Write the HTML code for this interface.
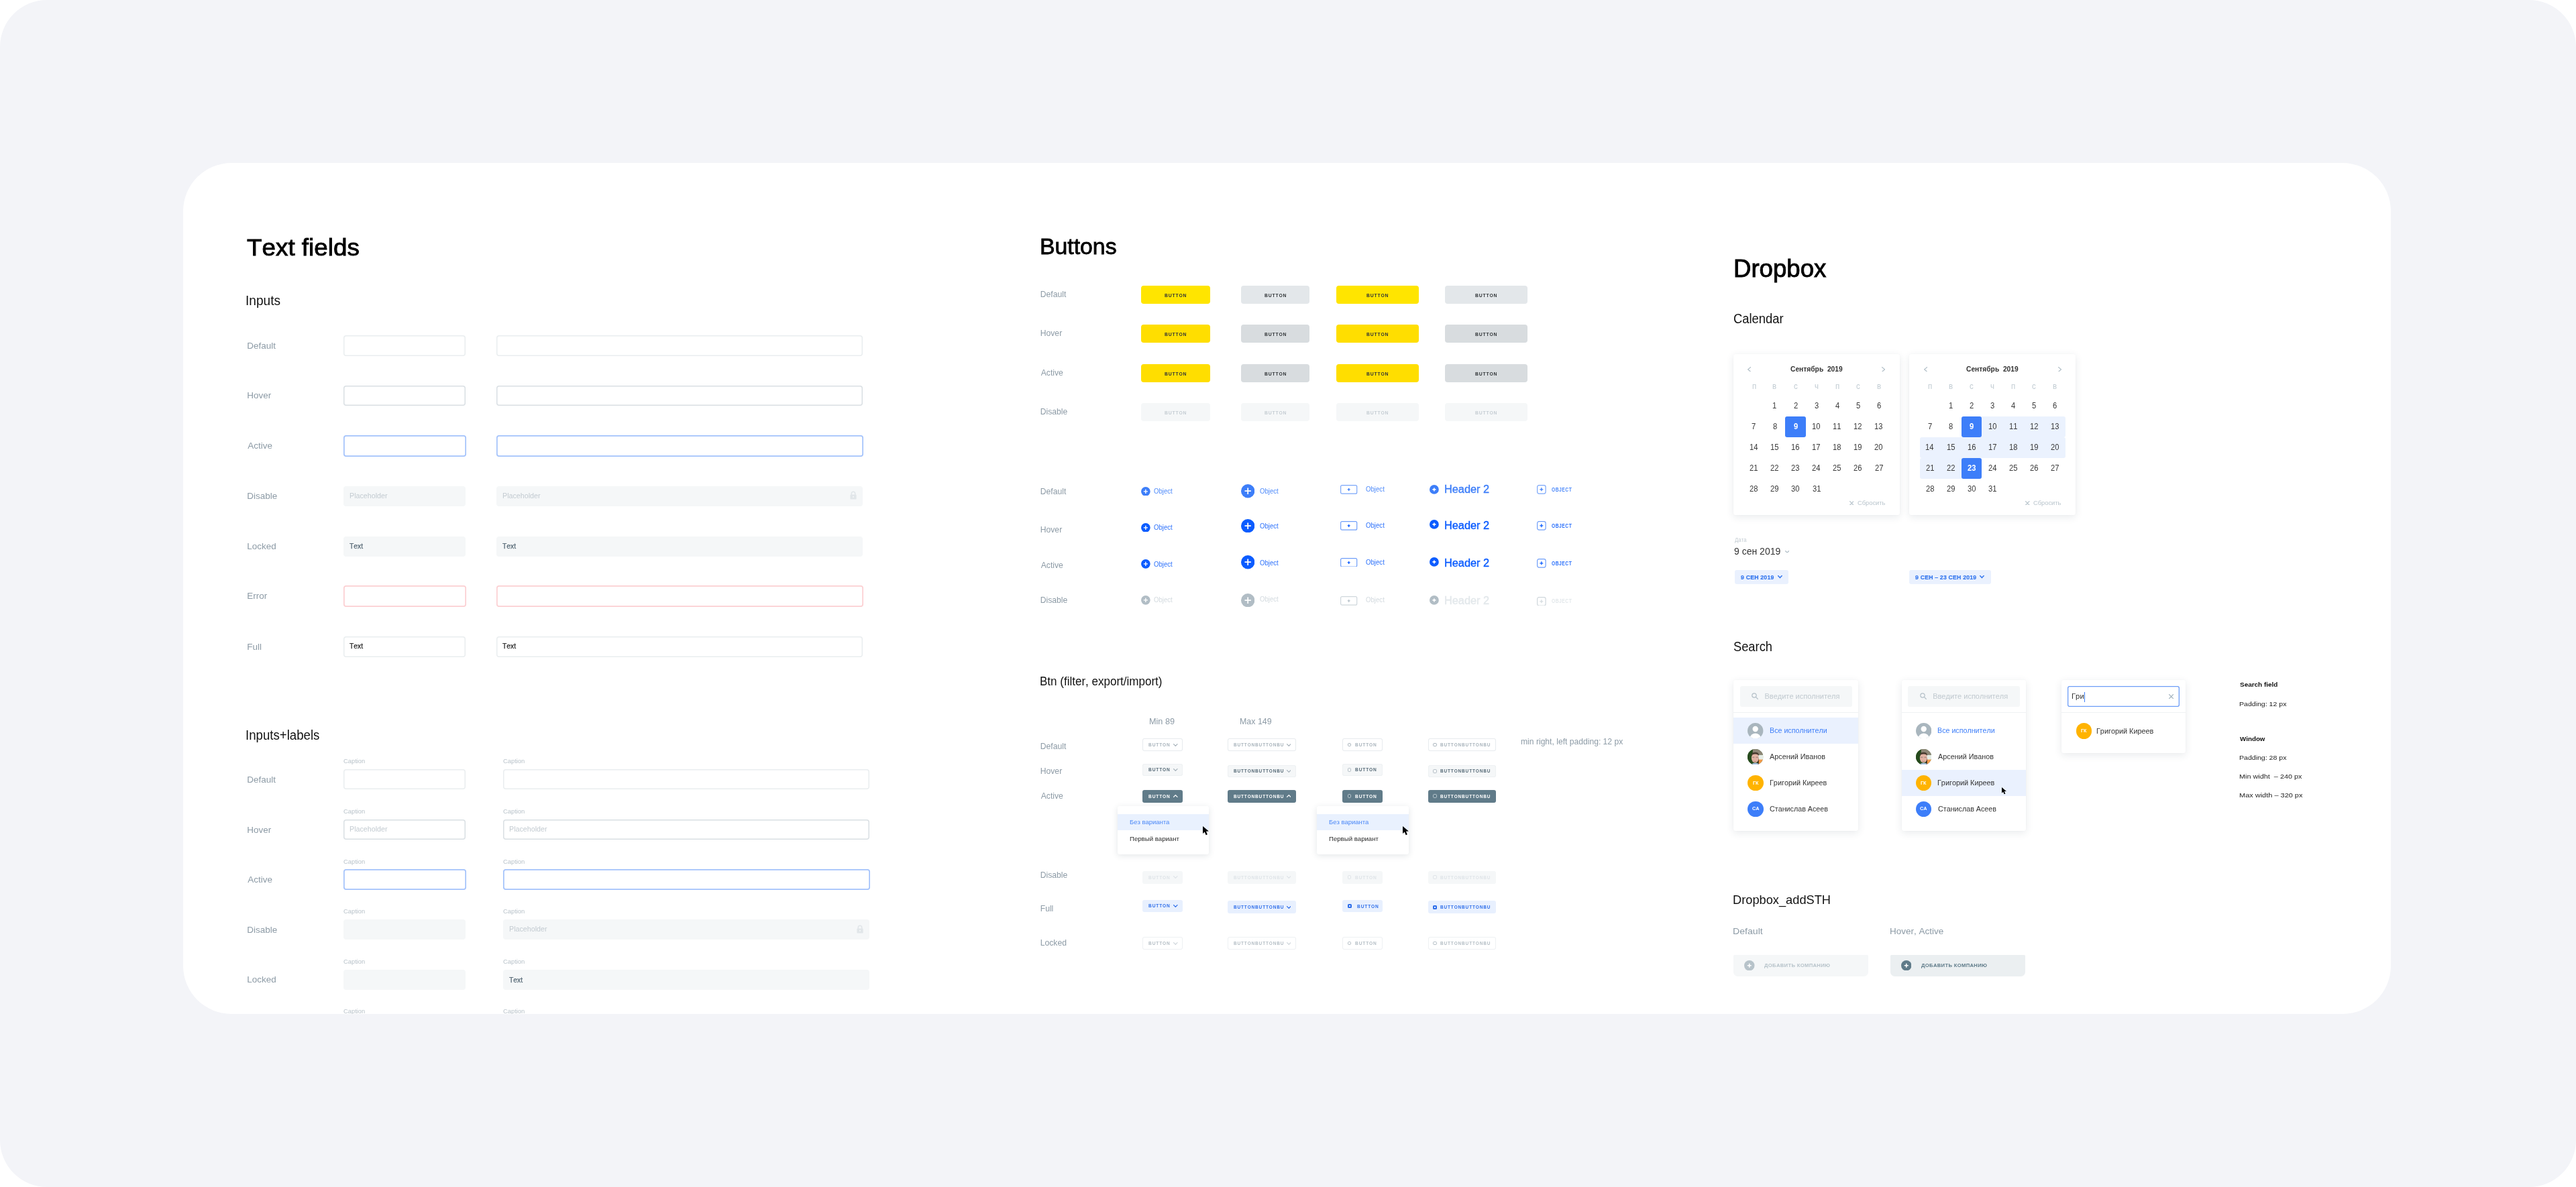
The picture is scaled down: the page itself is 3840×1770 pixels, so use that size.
<!DOCTYPE html>
<html><head><meta charset="utf-8"><title>UI kit</title>
<style>
html,body{margin:0;padding:0;background:#fff;}
body{width:3840px;height:1770px;overflow:hidden;position:relative;font-family:"Liberation Sans", "DejaVu Sans", sans-serif;font-kerning:none;-webkit-font-smoothing:antialiased;}
#bg{position:absolute;left:0;top:0;width:3840px;height:1770px;background:#f3f4f8;border-radius:70px;}
#card{position:absolute;left:273px;top:243px;width:3291px;height:1269px;background:#fff;border-radius:72px;overflow:hidden;}
#in{position:absolute;left:-273px;top:-243px;width:3840px;height:1770px;will-change:transform;filter:blur(0.35px);}
.a{position:absolute;}
.t{position:absolute;white-space:nowrap;transform-origin:0 0;}
</style></head><body>
<div id="bg"></div>
<div id="card"><div id="in">
<div class="t" style="left:368.12px;top:352.36px;font-size:35.71px;line-height:35.71px;color:#000;transform:scaleX(1.0314);-webkit-text-stroke:0.89px #000;">Text fields</div>
<div class="t" style="left:366.43px;top:438.95px;font-size:19.43px;line-height:19.43px;color:#111;transform:scaleX(0.9855);">Inputs</div>
<div class="t" style="left:368.19px;top:508.97px;font-size:13.5px;line-height:13.5px;color:#8d9ba6;">Default</div>
<div class="a" style="left:511.7px;top:500.2px;width:182.6px;height:30.6px;background:#fff;box-shadow:inset 0 0 0 1.5px #e9edef;border-radius:4px;"></div>
<div class="a" style="left:739.7px;top:500.2px;width:546.6px;height:30.6px;background:#fff;box-shadow:inset 0 0 0 1.5px #e9edef;border-radius:4px;"></div>
<div class="t" style="left:368.19px;top:583.47px;font-size:13.5px;line-height:13.5px;color:#8d9ba6;">Hover</div>
<div class="a" style="left:511.7px;top:574.7px;width:182.6px;height:30.6px;background:#fff;box-shadow:inset 0 0 0 1.5px #d9dfe3;border-radius:4px;"></div>
<div class="a" style="left:739.7px;top:574.7px;width:546.6px;height:30.6px;background:#fff;box-shadow:inset 0 0 0 1.5px #d9dfe3;border-radius:4px;"></div>
<div class="t" style="left:369.27px;top:658.47px;font-size:13.5px;line-height:13.5px;color:#8d9ba6;">Active</div>
<div class="a" style="left:511.5px;top:649.4px;width:183px;height:31.2px;background:#fff;box-shadow:inset 0 0 0 1.7px #a3c2fb;border-radius:4px;"></div>
<div class="a" style="left:739.5px;top:649.4px;width:547px;height:31.2px;background:#fff;box-shadow:inset 0 0 0 1.7px #a3c2fb;border-radius:4px;"></div>
<div class="t" style="left:368.19px;top:733.47px;font-size:13.5px;line-height:13.5px;color:#8d9ba6;">Disable</div>
<div class="a" style="left:512px;top:725px;width:182px;height:30px;background:#f5f7f8;border-radius:4px;"></div>
<div class="t" style="left:520.62px;top:734.79px;font-size:10.4px;line-height:10.4px;color:#c3cbd1;transform:scaleX(1.0297);">Placeholder</div>
<div class="a" style="left:740px;top:725px;width:546px;height:30px;background:#f5f7f8;border-radius:4px;"></div>
<div class="t" style="left:748.62px;top:734.79px;font-size:10.4px;line-height:10.4px;color:#c3cbd1;transform:scaleX(1.0297);">Placeholder</div>
<svg class="a" style="left:1267.4px;top:732.4px" width="10" height="13" viewBox="0 0 10 13"><path d="M2.3 6V3.9a2.7 2.7 0 0 1 5.4 0V6" fill="none" stroke="#e1e6e9" stroke-width="1.6"/><rect x="0.4" y="5.4" width="9.2" height="7.2" rx="1.2" fill="#e1e6e9"/><circle cx="5" cy="8.8" r="1.1" fill="#f5f7f8"/></svg>
<div class="t" style="left:368.19px;top:807.97px;font-size:13.5px;line-height:13.5px;color:#8d9ba6;">Locked</div>
<div class="a" style="left:512px;top:799.5px;width:182px;height:30px;background:#f5f7f8;border-radius:4px;"></div>
<div class="t" style="left:521.37px;top:809.46px;font-size:10.8px;line-height:10.8px;color:#526572;transform:scaleX(0.9573);-webkit-text-stroke:0.25px #526572;">Text</div>
<div class="a" style="left:740px;top:799.5px;width:546px;height:30px;background:#f5f7f8;border-radius:4px;"></div>
<div class="t" style="left:749.37px;top:809.46px;font-size:10.8px;line-height:10.8px;color:#526572;transform:scaleX(0.9573);-webkit-text-stroke:0.25px #526572;">Text</div>
<div class="t" style="left:368.19px;top:882.47px;font-size:13.5px;line-height:13.5px;color:#8d9ba6;">Error</div>
<div class="a" style="left:511.5px;top:873.4px;width:183px;height:31.2px;background:#fff;box-shadow:inset 0 0 0 1.7px #fccfd2;border-radius:4px;"></div>
<div class="a" style="left:739.5px;top:873.4px;width:547px;height:31.2px;background:#fff;box-shadow:inset 0 0 0 1.7px #fccfd2;border-radius:4px;"></div>
<div class="t" style="left:368.19px;top:957.97px;font-size:13.5px;line-height:13.5px;color:#8d9ba6;">Full</div>
<div class="a" style="left:511.7px;top:949.2px;width:182.6px;height:30.6px;background:#fff;box-shadow:inset 0 0 0 1.5px #e9edef;border-radius:4px;"></div>
<div class="t" style="left:521.37px;top:957.56px;font-size:10.8px;line-height:10.8px;color:#1d1d1d;transform:scaleX(0.9573);-webkit-text-stroke:0.25px #1d1d1d;">Text</div>
<div class="a" style="left:739.7px;top:949.2px;width:546.6px;height:30.6px;background:#fff;box-shadow:inset 0 0 0 1.5px #e9edef;border-radius:4px;"></div>
<div class="t" style="left:749.37px;top:957.56px;font-size:10.8px;line-height:10.8px;color:#1d1d1d;transform:scaleX(0.9573);-webkit-text-stroke:0.25px #1d1d1d;">Text</div>
<div class="t" style="left:366.48px;top:1085.97px;font-size:20px;line-height:20px;color:#111;transform:scaleX(0.9322);">Inputs+labels</div>
<div class="t" style="left:368.19px;top:1156.07px;font-size:13.5px;line-height:13.5px;color:#8d9ba6;">Default</div>
<div class="t" style="left:511.72px;top:1131.49px;font-size:8.4px;line-height:8.4px;color:#b9c3ca;transform:scaleX(1.1186);">Caption</div>
<div class="t" style="left:749.72px;top:1131.49px;font-size:8.4px;line-height:8.4px;color:#b9c3ca;transform:scaleX(1.1186);">Caption</div>
<div class="a" style="left:511.7px;top:1147.3px;width:182.6px;height:30.2px;background:#fff;box-shadow:inset 0 0 0 1.5px #e9edef;border-radius:4px;"></div>
<div class="a" style="left:749.7px;top:1147.3px;width:546.6px;height:30.2px;background:#fff;box-shadow:inset 0 0 0 1.5px #e9edef;border-radius:4px;"></div>
<div class="t" style="left:368.19px;top:1230.67px;font-size:13.5px;line-height:13.5px;color:#8d9ba6;">Hover</div>
<div class="t" style="left:511.72px;top:1206.09px;font-size:8.4px;line-height:8.4px;color:#b9c3ca;transform:scaleX(1.1186);">Caption</div>
<div class="t" style="left:749.72px;top:1206.09px;font-size:8.4px;line-height:8.4px;color:#b9c3ca;transform:scaleX(1.1186);">Caption</div>
<div class="a" style="left:511.7px;top:1221.9px;width:182.6px;height:30.2px;background:#fff;box-shadow:inset 0 0 0 1.5px #d9dfe3;border-radius:4px;"></div>
<div class="t" style="left:520.62px;top:1231.99px;font-size:10.4px;line-height:10.4px;color:#c3cbd1;transform:scaleX(1.0297);">Placeholder</div>
<div class="a" style="left:749.7px;top:1221.9px;width:546.6px;height:30.2px;background:#fff;box-shadow:inset 0 0 0 1.5px #d9dfe3;border-radius:4px;"></div>
<div class="t" style="left:758.62px;top:1231.99px;font-size:10.4px;line-height:10.4px;color:#c3cbd1;transform:scaleX(1.0297);">Placeholder</div>
<div class="t" style="left:369.27px;top:1305.37px;font-size:13.5px;line-height:13.5px;color:#8d9ba6;">Active</div>
<div class="t" style="left:511.72px;top:1280.79px;font-size:8.4px;line-height:8.4px;color:#b9c3ca;transform:scaleX(1.1186);">Caption</div>
<div class="t" style="left:749.72px;top:1280.79px;font-size:8.4px;line-height:8.4px;color:#b9c3ca;transform:scaleX(1.1186);">Caption</div>
<div class="a" style="left:511.5px;top:1296.3px;width:183px;height:30.8px;background:#fff;box-shadow:inset 0 0 0 1.7px #a3c2fb;border-radius:4px;"></div>
<div class="a" style="left:749.5px;top:1296.3px;width:547px;height:30.8px;background:#fff;box-shadow:inset 0 0 0 1.7px #a3c2fb;border-radius:4px;"></div>
<div class="t" style="left:368.19px;top:1379.87px;font-size:13.5px;line-height:13.5px;color:#8d9ba6;">Disable</div>
<div class="t" style="left:511.72px;top:1355.29px;font-size:8.4px;line-height:8.4px;color:#b9c3ca;transform:scaleX(1.1186);">Caption</div>
<div class="t" style="left:749.72px;top:1355.29px;font-size:8.4px;line-height:8.4px;color:#b9c3ca;transform:scaleX(1.1186);">Caption</div>
<div class="a" style="left:512px;top:1371.4px;width:182px;height:29.6px;background:#f5f7f8;border-radius:4px;"></div>
<div class="a" style="left:750px;top:1371.4px;width:546px;height:29.6px;background:#f5f7f8;border-radius:4px;"></div>
<div class="t" style="left:758.62px;top:1381.19px;font-size:10.4px;line-height:10.4px;color:#c3cbd1;transform:scaleX(1.0297);">Placeholder</div>
<svg class="a" style="left:1277.4px;top:1378.8px" width="10" height="13" viewBox="0 0 10 13"><path d="M2.3 6V3.9a2.7 2.7 0 0 1 5.4 0V6" fill="none" stroke="#e1e6e9" stroke-width="1.6"/><rect x="0.4" y="5.4" width="9.2" height="7.2" rx="1.2" fill="#e1e6e9"/><circle cx="5" cy="8.8" r="1.1" fill="#f5f7f8"/></svg>
<div class="t" style="left:368.19px;top:1454.47px;font-size:13.5px;line-height:13.5px;color:#8d9ba6;">Locked</div>
<div class="t" style="left:511.72px;top:1429.89px;font-size:8.4px;line-height:8.4px;color:#b9c3ca;transform:scaleX(1.1186);">Caption</div>
<div class="t" style="left:749.72px;top:1429.89px;font-size:8.4px;line-height:8.4px;color:#b9c3ca;transform:scaleX(1.1186);">Caption</div>
<div class="a" style="left:512px;top:1446px;width:182px;height:29.6px;background:#f5f7f8;border-radius:4px;"></div>
<div class="a" style="left:750px;top:1446px;width:546px;height:29.6px;background:#f5f7f8;border-radius:4px;"></div>
<div class="t" style="left:759.37px;top:1455.96px;font-size:10.8px;line-height:10.8px;color:#526572;transform:scaleX(0.9573);-webkit-text-stroke:0.25px #526572;">Text</div>
<div class="t" style="left:368.19px;top:1529.07px;font-size:13.5px;line-height:13.5px;color:#8d9ba6;">Error</div>
<div class="t" style="left:511.72px;top:1504.49px;font-size:8.4px;line-height:8.4px;color:#b9c3ca;transform:scaleX(1.1186);">Caption</div>
<div class="t" style="left:749.72px;top:1504.49px;font-size:8.4px;line-height:8.4px;color:#b9c3ca;transform:scaleX(1.1186);">Caption</div>
<div class="a" style="left:511.5px;top:1520px;width:183px;height:30.8px;background:#fff;box-shadow:inset 0 0 0 1.7px #fccfd2;border-radius:4px;"></div>
<div class="a" style="left:749.5px;top:1520px;width:547px;height:30.8px;background:#fff;box-shadow:inset 0 0 0 1.7px #fccfd2;border-radius:4px;"></div>
<div class="t" style="left:1550.04px;top:351.7px;font-size:32.71px;line-height:32.71px;color:#000;transform:scaleX(1.0328);-webkit-text-stroke:0.82px #000;">Buttons</div>
<div class="t" style="left:1550.7px;top:433.27px;font-size:12.2px;line-height:12.2px;color:#8d9ba6;">Default</div>
<div class="a" style="left:1701.2px;top:426.1px;width:102.6px;height:27.4px;background:#ffe500;border-radius:4px;"></div>
<div class="t" style="left:1736.25px;top:437.03px;font-size:8px;line-height:8px;color:#2f3336;font-weight:700;letter-spacing:1px;transform:scaleX(0.8482);">BUTTON</div>
<div class="a" style="left:1850.4px;top:426.1px;width:101.7px;height:27.4px;background:#e3e7ea;border-radius:4px;"></div>
<div class="t" style="left:1885px;top:437.03px;font-size:8px;line-height:8px;color:#2f3336;font-weight:700;letter-spacing:1px;transform:scaleX(0.8482);">BUTTON</div>
<div class="a" style="left:1991.8px;top:426.1px;width:123.2px;height:27.4px;background:#ffe500;border-radius:4px;"></div>
<div class="t" style="left:2037.15px;top:437.03px;font-size:8px;line-height:8px;color:#2f3336;font-weight:700;letter-spacing:1px;transform:scaleX(0.8482);">BUTTON</div>
<div class="a" style="left:2154.3px;top:426.1px;width:122.7px;height:27.4px;background:#e3e7ea;border-radius:4px;"></div>
<div class="t" style="left:2199.4px;top:437.03px;font-size:8px;line-height:8px;color:#2f3336;font-weight:700;letter-spacing:1px;transform:scaleX(0.8482);">BUTTON</div>
<div class="t" style="left:1550.7px;top:490.97px;font-size:12.2px;line-height:12.2px;color:#8d9ba6;">Hover</div>
<div class="a" style="left:1701.2px;top:483.8px;width:102.6px;height:27.4px;background:#ffde00;border-radius:4px;"></div>
<div class="t" style="left:1736.25px;top:494.73px;font-size:8px;line-height:8px;color:#2f3336;font-weight:700;letter-spacing:1px;transform:scaleX(0.8482);">BUTTON</div>
<div class="a" style="left:1850.4px;top:483.8px;width:101.7px;height:27.4px;background:#d8dcdf;border-radius:4px;"></div>
<div class="t" style="left:1885px;top:494.73px;font-size:8px;line-height:8px;color:#2f3336;font-weight:700;letter-spacing:1px;transform:scaleX(0.8482);">BUTTON</div>
<div class="a" style="left:1991.8px;top:483.8px;width:123.2px;height:27.4px;background:#ffde00;border-radius:4px;"></div>
<div class="t" style="left:2037.15px;top:494.73px;font-size:8px;line-height:8px;color:#2f3336;font-weight:700;letter-spacing:1px;transform:scaleX(0.8482);">BUTTON</div>
<div class="a" style="left:2154.3px;top:483.8px;width:122.7px;height:27.4px;background:#d8dcdf;border-radius:4px;"></div>
<div class="t" style="left:2199.4px;top:494.73px;font-size:8px;line-height:8px;color:#2f3336;font-weight:700;letter-spacing:1px;transform:scaleX(0.8482);">BUTTON</div>
<div class="t" style="left:1551.68px;top:550.17px;font-size:12.2px;line-height:12.2px;color:#8d9ba6;">Active</div>
<div class="a" style="left:1701.2px;top:543px;width:102.6px;height:27.4px;background:#ffde00;border-radius:4px;"></div>
<div class="t" style="left:1736.25px;top:553.93px;font-size:8px;line-height:8px;color:#2f3336;font-weight:700;letter-spacing:1px;transform:scaleX(0.8482);">BUTTON</div>
<div class="a" style="left:1850.4px;top:543px;width:101.7px;height:27.4px;background:#d8dcdf;border-radius:4px;"></div>
<div class="t" style="left:1885px;top:553.93px;font-size:8px;line-height:8px;color:#2f3336;font-weight:700;letter-spacing:1px;transform:scaleX(0.8482);">BUTTON</div>
<div class="a" style="left:1991.8px;top:543px;width:123.2px;height:27.4px;background:#ffde00;border-radius:4px;"></div>
<div class="t" style="left:2037.15px;top:553.93px;font-size:8px;line-height:8px;color:#2f3336;font-weight:700;letter-spacing:1px;transform:scaleX(0.8482);">BUTTON</div>
<div class="a" style="left:2154.3px;top:543px;width:122.7px;height:27.4px;background:#d8dcdf;border-radius:4px;"></div>
<div class="t" style="left:2199.4px;top:553.93px;font-size:8px;line-height:8px;color:#2f3336;font-weight:700;letter-spacing:1px;transform:scaleX(0.8482);">BUTTON</div>
<div class="t" style="left:1550.7px;top:607.77px;font-size:12.2px;line-height:12.2px;color:#8d9ba6;">Disable</div>
<div class="a" style="left:1701.2px;top:600.6px;width:102.6px;height:27.4px;background:#f5f7f8;border-radius:4px;"></div>
<div class="t" style="left:1736.25px;top:611.53px;font-size:8px;line-height:8px;color:#c5cdd3;font-weight:700;letter-spacing:1px;transform:scaleX(0.8482);">BUTTON</div>
<div class="a" style="left:1850.4px;top:600.6px;width:101.7px;height:27.4px;background:#f5f7f8;border-radius:4px;"></div>
<div class="t" style="left:1885px;top:611.53px;font-size:8px;line-height:8px;color:#c5cdd3;font-weight:700;letter-spacing:1px;transform:scaleX(0.8482);">BUTTON</div>
<div class="a" style="left:1991.8px;top:600.6px;width:123.2px;height:27.4px;background:#f5f7f8;border-radius:4px;"></div>
<div class="t" style="left:2037.15px;top:611.53px;font-size:8px;line-height:8px;color:#c5cdd3;font-weight:700;letter-spacing:1px;transform:scaleX(0.8482);">BUTTON</div>
<div class="a" style="left:2154.3px;top:600.6px;width:122.7px;height:27.4px;background:#f5f7f8;border-radius:4px;"></div>
<div class="t" style="left:2199.4px;top:611.53px;font-size:8px;line-height:8px;color:#c5cdd3;font-weight:700;letter-spacing:1px;transform:scaleX(0.8482);">BUTTON</div>
<div class="t" style="left:1550.7px;top:726.57px;font-size:12.2px;line-height:12.2px;color:#8d9ba6;">Default</div>
<svg class="a" style="left:1701.15px;top:725.65px" width="13.7" height="13.7" viewBox="0 0 13.7 13.7"><circle cx="6.85" cy="6.85" r="6.85" fill="#3d7ef9"/><path d="M3.75 6.85h6.2M6.85 3.75v6.2" stroke="#fff" stroke-width="1.4"/></svg>
<div class="t" style="left:1719.85px;top:727.34px;font-size:10.7px;line-height:10.7px;color:#4f8bfa;transform:scaleX(0.8965);">Object</div>
<svg class="a" style="left:1849.8px;top:722.2px" width="20.4" height="20.4" viewBox="0 0 20.4 20.4"><circle cx="10.2" cy="10.2" r="10.2" fill="#3d7ef9"/><path d="M5.5 10.2h9.4M10.2 5.5v9.4" stroke="#fff" stroke-width="1.8"/></svg>
<div class="t" style="left:1878.05px;top:727.34px;font-size:10.7px;line-height:10.7px;color:#4f8bfa;transform:scaleX(0.8965);">Object</div>
<svg class="a" style="left:1998.4px;top:723.2px" width="25.3" height="13.8" viewBox="0 0 25.3 13.8"><rect x="0.6" y="0.6" width="24.1" height="12.6" rx="2" fill="none" stroke="#7aa6f9" stroke-width="1.2"/><path d="M10.65 6.9h4M12.65 4.9v4" stroke="#3d7ef9" stroke-width="1.3"/></svg>
<div class="t" style="left:2036.44px;top:725.39px;font-size:10.4px;line-height:10.4px;color:#4f8bfa;transform:scaleX(0.9258);">Object</div>
<svg class="a" style="left:2131.3px;top:722.9px" width="13.8" height="13.8" viewBox="0 0 13.8 13.8"><circle cx="6.9" cy="6.9" r="6.9" fill="#3d7ef9"/><path d="M4.4 6.9h5M6.9 4.4v5" stroke="#fff" stroke-width="1.6"/></svg>
<div class="t" style="left:2153.06px;top:722.05px;font-size:16px;line-height:16px;color:#3d7ef9;transform:scaleX(1.0204);-webkit-text-stroke:0.4px #3d7ef9;">Header 2</div>
<svg class="a" style="left:2291px;top:723.2px" width="13.7" height="13.7" viewBox="0 0 13.7 13.7"><rect x="0.6" y="0.6" width="12.5" height="12.5" rx="2.5" fill="none" stroke="#7aa6f9" stroke-width="1.2"/><path d="M4.35 6.85h5M6.85 4.35v5" stroke="#3d7ef9" stroke-width="1.3"/></svg>
<div class="t" style="left:2312.92px;top:725.79px;font-size:8.4px;line-height:8.4px;color:#4f8bfa;font-weight:700;letter-spacing:0.6px;transform:scaleX(0.8052);">OBJECT</div>
<div class="t" style="left:1550.7px;top:784.27px;font-size:12.2px;line-height:12.2px;color:#8d9ba6;">Hover</div>
<svg class="a" style="left:1701.15px;top:779.75px" width="13.7" height="13.7" viewBox="0 0 13.7 13.7"><circle cx="6.85" cy="6.85" r="6.85" fill="#0b5cff"/><path d="M3.75 6.85h6.2M6.85 3.75v6.2" stroke="#fff" stroke-width="1.4"/></svg>
<div class="t" style="left:1719.85px;top:781.24px;font-size:10.7px;line-height:10.7px;color:#2e72fb;transform:scaleX(0.8965);">Object</div>
<svg class="a" style="left:1849.8px;top:773.5px" width="20.4" height="20.4" viewBox="0 0 20.4 20.4"><circle cx="10.2" cy="10.2" r="10.2" fill="#0b5cff"/><path d="M5.5 10.2h9.4M10.2 5.5v9.4" stroke="#fff" stroke-width="1.8"/></svg>
<div class="t" style="left:1878.05px;top:778.64px;font-size:10.7px;line-height:10.7px;color:#2e72fb;transform:scaleX(0.8965);">Object</div>
<svg class="a" style="left:1998.4px;top:777.2px" width="25.3" height="13.8" viewBox="0 0 25.3 13.8"><rect x="0.6" y="0.6" width="24.1" height="12.6" rx="2" fill="none" stroke="#6f9ef9" stroke-width="1.2"/><path d="M10.65 6.9h4M12.65 4.9v4" stroke="#0b5cff" stroke-width="1.3"/></svg>
<div class="t" style="left:2036.44px;top:778.59px;font-size:10.4px;line-height:10.4px;color:#2e72fb;transform:scaleX(0.9258);">Object</div>
<svg class="a" style="left:2131.3px;top:774.9px" width="13.8" height="13.8" viewBox="0 0 13.8 13.8"><circle cx="6.9" cy="6.9" r="6.9" fill="#0b5cff"/><path d="M4.4 6.9h5M6.9 4.4v5" stroke="#fff" stroke-width="1.6"/></svg>
<div class="t" style="left:2153.06px;top:775.85px;font-size:16px;line-height:16px;color:#0b5cff;transform:scaleX(1.0204);-webkit-text-stroke:0.4px #0b5cff;">Header 2</div>
<svg class="a" style="left:2291px;top:777px" width="13.7" height="13.7" viewBox="0 0 13.7 13.7"><rect x="0.6" y="0.6" width="12.5" height="12.5" rx="2.5" fill="none" stroke="#6f9ef9" stroke-width="1.2"/><path d="M4.35 6.85h5M6.85 4.35v5" stroke="#0b5cff" stroke-width="1.3"/></svg>
<div class="t" style="left:2312.92px;top:779.59px;font-size:8.4px;line-height:8.4px;color:#2e72fb;font-weight:700;letter-spacing:0.6px;transform:scaleX(0.8052);">OBJECT</div>
<div class="t" style="left:1551.68px;top:837.47px;font-size:12.2px;line-height:12.2px;color:#8d9ba6;">Active</div>
<svg class="a" style="left:1701.15px;top:834.35px" width="13.7" height="13.7" viewBox="0 0 13.7 13.7"><circle cx="6.85" cy="6.85" r="6.85" fill="#0b5cff"/><path d="M3.75 6.85h6.2M6.85 3.75v6.2" stroke="#fff" stroke-width="1.4"/></svg>
<div class="t" style="left:1719.85px;top:835.64px;font-size:10.7px;line-height:10.7px;color:#2e72fb;transform:scaleX(0.8965);">Object</div>
<svg class="a" style="left:1849.8px;top:828.3px" width="20.4" height="20.4" viewBox="0 0 20.4 20.4"><circle cx="10.2" cy="10.2" r="10.2" fill="#0b5cff"/><path d="M5.5 10.2h9.4M10.2 5.5v9.4" stroke="#fff" stroke-width="1.8"/></svg>
<div class="t" style="left:1878.05px;top:833.84px;font-size:10.7px;line-height:10.7px;color:#2e72fb;transform:scaleX(0.8965);">Object</div>
<svg class="a" style="left:1998.4px;top:831.6px" width="25.3" height="13.8" viewBox="0 0 25.3 13.8"><rect x="0.6" y="0.6" width="24.1" height="12.6" rx="2" fill="none" stroke="#6f9ef9" stroke-width="1.2"/><path d="M10.65 6.9h4M12.65 4.9v4" stroke="#0b5cff" stroke-width="1.3"/></svg>
<div class="t" style="left:2036.44px;top:833.59px;font-size:10.4px;line-height:10.4px;color:#2e72fb;transform:scaleX(0.9258);">Object</div>
<svg class="a" style="left:2131.3px;top:831px" width="13.8" height="13.8" viewBox="0 0 13.8 13.8"><circle cx="6.9" cy="6.9" r="6.9" fill="#0b5cff"/><path d="M4.4 6.9h5M6.9 4.4v5" stroke="#fff" stroke-width="1.6"/></svg>
<div class="t" style="left:2153.06px;top:832.25px;font-size:16px;line-height:16px;color:#0b5cff;transform:scaleX(1.0204);-webkit-text-stroke:0.4px #0b5cff;">Header 2</div>
<svg class="a" style="left:2291px;top:833px" width="13.7" height="13.7" viewBox="0 0 13.7 13.7"><rect x="0.6" y="0.6" width="12.5" height="12.5" rx="2.5" fill="none" stroke="#6f9ef9" stroke-width="1.2"/><path d="M4.35 6.85h5M6.85 4.35v5" stroke="#0b5cff" stroke-width="1.3"/></svg>
<div class="t" style="left:2312.92px;top:835.99px;font-size:8.4px;line-height:8.4px;color:#2e72fb;font-weight:700;letter-spacing:0.6px;transform:scaleX(0.8052);">OBJECT</div>
<div class="t" style="left:1550.7px;top:888.67px;font-size:12.2px;line-height:12.2px;color:#8d9ba6;">Disable</div>
<svg class="a" style="left:1701.15px;top:887.95px" width="13.7" height="13.7" viewBox="0 0 13.7 13.7"><circle cx="6.85" cy="6.85" r="6.85" fill="#b1bdc5"/><path d="M3.75 6.85h6.2M6.85 3.75v6.2" stroke="#fff" stroke-width="1.4"/></svg>
<div class="t" style="left:1719.85px;top:889.14px;font-size:10.7px;line-height:10.7px;color:#d3dadf;transform:scaleX(0.8965);">Object</div>
<svg class="a" style="left:1849.8px;top:884.6px" width="20.4" height="20.4" viewBox="0 0 20.4 20.4"><circle cx="10.2" cy="10.2" r="10.2" fill="#b1bdc5"/><path d="M5.5 10.2h9.4M10.2 5.5v9.4" stroke="#fff" stroke-width="1.8"/></svg>
<div class="t" style="left:1878.05px;top:887.94px;font-size:10.7px;line-height:10.7px;color:#d3dadf;transform:scaleX(0.8965);">Object</div>
<svg class="a" style="left:1998.4px;top:889.2px" width="25.3" height="13.8" viewBox="0 0 25.3 13.8"><rect x="0.6" y="0.6" width="24.1" height="12.6" rx="2" fill="none" stroke="#cfd7dc" stroke-width="1.2"/><path d="M10.65 6.9h4M12.65 4.9v4" stroke="#b9c4cb" stroke-width="1.3"/></svg>
<div class="t" style="left:2036.44px;top:890.19px;font-size:10.4px;line-height:10.4px;color:#d3dadf;transform:scaleX(0.9258);">Object</div>
<svg class="a" style="left:2131.3px;top:887.9px" width="13.8" height="13.8" viewBox="0 0 13.8 13.8"><circle cx="6.9" cy="6.9" r="6.9" fill="#b1bdc5"/><path d="M4.4 6.9h5M6.9 4.4v5" stroke="#fff" stroke-width="1.6"/></svg>
<div class="t" style="left:2153.06px;top:888.05px;font-size:16px;line-height:16px;color:#e3e8eb;transform:scaleX(1.0204);-webkit-text-stroke:0.4px #e3e8eb;">Header 2</div>
<svg class="a" style="left:2291px;top:889.5px" width="13.7" height="13.7" viewBox="0 0 13.7 13.7"><rect x="0.6" y="0.6" width="12.5" height="12.5" rx="2.5" fill="none" stroke="#cfd7dc" stroke-width="1.2"/><path d="M4.35 6.85h5M6.85 4.35v5" stroke="#d5dce0" stroke-width="1.3"/></svg>
<div class="t" style="left:2312.92px;top:891.89px;font-size:8.4px;line-height:8.4px;color:#e3e8eb;font-weight:700;letter-spacing:0.6px;transform:scaleX(0.8052);">OBJECT</div>
<div class="t" style="left:1550px;top:1006.93px;font-size:18.86px;line-height:18.86px;color:#111;transform:scaleX(0.9021);">Btn (filter, export/import)</div>
<div class="t" style="left:1712.56px;top:1070.33px;font-size:12.6px;line-height:12.6px;color:#8d9ba6;transform:scaleX(1.0059);">Min 89</div>
<div class="t" style="left:1847.58px;top:1070.33px;font-size:12.6px;line-height:12.6px;color:#8d9ba6;transform:scaleX(0.9851);">Max 149</div>
<div class="t" style="left:2267.09px;top:1100.33px;font-size:12.6px;line-height:12.6px;color:#8d9ba6;transform:scaleX(0.9624);">min right, left padding: 12 px</div>
<div class="t" style="left:1550.7px;top:1107.17px;font-size:12.2px;line-height:12.2px;color:#8d9ba6;">Default</div>
<div class="a" style="left:1702.6px;top:1101.3px;width:60.8px;height:18.6px;background:#fff;box-shadow:inset 0 0 0 1px #e7ebee;border-radius:3px;"></div>
<div class="t" style="left:1711.56px;top:1106.93px;font-size:7.4px;line-height:7.4px;color:#a9b4bc;font-weight:700;letter-spacing:1px;transform:scaleX(0.8899);">BUTTON</div>
<svg class="a" style="left:1749.3px;top:1108.6px" width="6.6" height="4" viewBox="0 0 6.6 4"><path d="M0.6 0.6 L3.3 3.4 L6 0.6" fill="none" stroke="#a9b4bc" stroke-width="1.3" stroke-linecap="round" stroke-linejoin="round"/></svg>
<div class="a" style="left:1830.4px;top:1101.3px;width:101.5px;height:18.6px;background:#fff;box-shadow:inset 0 0 0 1px #e7ebee;border-radius:3px;"></div>
<div class="t" style="left:1839.37px;top:1106.93px;font-size:7.4px;line-height:7.4px;color:#a9b4bc;font-weight:700;letter-spacing:1px;transform:scaleX(0.8721);">BUTTONBUTTONBU</div>
<svg class="a" style="left:1917.8px;top:1108.6px" width="6.6" height="4" viewBox="0 0 6.6 4"><path d="M0.6 0.6 L3.3 3.4 L6 0.6" fill="none" stroke="#a9b4bc" stroke-width="1.3" stroke-linecap="round" stroke-linejoin="round"/></svg>
<div class="a" style="left:2001.3px;top:1101.3px;width:60.2px;height:18.6px;background:#fff;box-shadow:inset 0 0 0 1px #e7ebee;border-radius:3px;"></div>
<div class="a" style="left:2008.6px;top:1107.7px;width:5.8px;height:5.8px;box-sizing:border-box;border:1.3px solid #a9b4bc;border-radius:1.6px;"></div>
<div class="t" style="left:2019.96px;top:1106.93px;font-size:7.4px;line-height:7.4px;color:#a9b4bc;font-weight:700;letter-spacing:1px;transform:scaleX(0.8899);">BUTTON</div>
<div class="a" style="left:2128.5px;top:1101.3px;width:101.4px;height:18.6px;background:#fff;box-shadow:inset 0 0 0 1px #e7ebee;border-radius:3px;"></div>
<div class="a" style="left:2135.8px;top:1107.7px;width:5.8px;height:5.8px;box-sizing:border-box;border:1.3px solid #a9b4bc;border-radius:1.6px;"></div>
<div class="t" style="left:2147.17px;top:1106.93px;font-size:7.4px;line-height:7.4px;color:#a9b4bc;font-weight:700;letter-spacing:1px;transform:scaleX(0.8721);">BUTTONBUTTONBU</div>
<div class="t" style="left:1550.7px;top:1143.97px;font-size:12.2px;line-height:12.2px;color:#8d9ba6;">Hover</div>
<div class="a" style="left:1702.6px;top:1138.7px;width:60.8px;height:18.6px;background:#f5f7f8;box-shadow:inset 0 0 0 1px #eef1f3;border-radius:3px;"></div>
<div class="t" style="left:1711.56px;top:1144.33px;font-size:7.4px;line-height:7.4px;color:#566a77;font-weight:700;letter-spacing:1px;transform:scaleX(0.8899);">BUTTON</div>
<svg class="a" style="left:1749.3px;top:1146px" width="6.6" height="4" viewBox="0 0 6.6 4"><path d="M0.6 0.6 L3.3 3.4 L6 0.6" fill="none" stroke="#a9b4bc" stroke-width="1.3" stroke-linecap="round" stroke-linejoin="round"/></svg>
<div class="a" style="left:1830.4px;top:1140.5px;width:101.5px;height:18.6px;background:#f5f7f8;box-shadow:inset 0 0 0 1px #eef1f3;border-radius:3px;"></div>
<div class="t" style="left:1839.37px;top:1146.13px;font-size:7.4px;line-height:7.4px;color:#566a77;font-weight:700;letter-spacing:1px;transform:scaleX(0.8721);">BUTTONBUTTONBU</div>
<svg class="a" style="left:1917.8px;top:1147.8px" width="6.6" height="4" viewBox="0 0 6.6 4"><path d="M0.6 0.6 L3.3 3.4 L6 0.6" fill="none" stroke="#a9b4bc" stroke-width="1.3" stroke-linecap="round" stroke-linejoin="round"/></svg>
<div class="a" style="left:2001.3px;top:1138.7px;width:60.2px;height:18.6px;background:#f5f7f8;box-shadow:inset 0 0 0 1px #eef1f3;border-radius:3px;"></div>
<div class="a" style="left:2008.6px;top:1145.1px;width:5.8px;height:5.8px;box-sizing:border-box;border:1.3px solid #b4bec5;border-radius:1.6px;"></div>
<div class="t" style="left:2019.96px;top:1144.33px;font-size:7.4px;line-height:7.4px;color:#566a77;font-weight:700;letter-spacing:1px;transform:scaleX(0.8899);">BUTTON</div>
<div class="a" style="left:2128.5px;top:1140.5px;width:101.4px;height:18.6px;background:#f5f7f8;box-shadow:inset 0 0 0 1px #eef1f3;border-radius:3px;"></div>
<div class="a" style="left:2135.8px;top:1146.9px;width:5.8px;height:5.8px;box-sizing:border-box;border:1.3px solid #b4bec5;border-radius:1.6px;"></div>
<div class="t" style="left:2147.17px;top:1146.13px;font-size:7.4px;line-height:7.4px;color:#566a77;font-weight:700;letter-spacing:1px;transform:scaleX(0.8721);">BUTTONBUTTONBU</div>
<div class="t" style="left:1551.68px;top:1181.07px;font-size:12.2px;line-height:12.2px;color:#8d9ba6;">Active</div>
<div class="a" style="left:1702.6px;top:1178px;width:60.8px;height:18.6px;background:#607b89;border-radius:3px;"></div>
<div class="t" style="left:1711.56px;top:1183.63px;font-size:7.4px;line-height:7.4px;color:#ffffff;font-weight:700;letter-spacing:1px;transform:scaleX(0.8899);">BUTTON</div>
<svg class="a" style="left:1749.3px;top:1185.3px" width="6.6" height="4" viewBox="0 0 6.6 4"><path d="M0.6 3.4 L3.3 0.6 L6 3.4" fill="none" stroke="#ffffff" stroke-width="1.3" stroke-linecap="round" stroke-linejoin="round"/></svg>
<div class="a" style="left:1830.4px;top:1178px;width:101.5px;height:18.6px;background:#607b89;border-radius:3px;"></div>
<div class="t" style="left:1839.37px;top:1183.63px;font-size:7.4px;line-height:7.4px;color:#ffffff;font-weight:700;letter-spacing:1px;transform:scaleX(0.8721);">BUTTONBUTTONBU</div>
<svg class="a" style="left:1917.8px;top:1185.3px" width="6.6" height="4" viewBox="0 0 6.6 4"><path d="M0.6 3.4 L3.3 0.6 L6 3.4" fill="none" stroke="#ffffff" stroke-width="1.3" stroke-linecap="round" stroke-linejoin="round"/></svg>
<div class="a" style="left:2001.3px;top:1178px;width:60.2px;height:18.6px;background:#607b89;border-radius:3px;"></div>
<div class="a" style="left:2008.6px;top:1184.4px;width:5.8px;height:5.8px;box-sizing:border-box;border:1.3px solid #b8c6cd;border-radius:1.6px;"></div>
<div class="t" style="left:2019.96px;top:1183.63px;font-size:7.4px;line-height:7.4px;color:#ffffff;font-weight:700;letter-spacing:1px;transform:scaleX(0.8899);">BUTTON</div>
<div class="a" style="left:2128.5px;top:1178px;width:101.4px;height:18.6px;background:#607b89;border-radius:3px;"></div>
<div class="a" style="left:2135.8px;top:1184.4px;width:5.8px;height:5.8px;box-sizing:border-box;border:1.3px solid #b8c6cd;border-radius:1.6px;"></div>
<div class="t" style="left:2147.17px;top:1183.63px;font-size:7.4px;line-height:7.4px;color:#ffffff;font-weight:700;letter-spacing:1px;transform:scaleX(0.8721);">BUTTONBUTTONBU</div>
<div class="t" style="left:1550.7px;top:1299.17px;font-size:12.2px;line-height:12.2px;color:#8d9ba6;">Disable</div>
<div class="a" style="left:1702.6px;top:1299px;width:60.8px;height:18.6px;background:#f5f7f8;border-radius:3px;"></div>
<div class="t" style="left:1711.56px;top:1304.63px;font-size:7.4px;line-height:7.4px;color:#dfe4e8;font-weight:700;letter-spacing:1px;transform:scaleX(0.8899);">BUTTON</div>
<svg class="a" style="left:1749.3px;top:1306.3px" width="6.6" height="4" viewBox="0 0 6.6 4"><path d="M0.6 0.6 L3.3 3.4 L6 0.6" fill="none" stroke="#dfe4e8" stroke-width="1.3" stroke-linecap="round" stroke-linejoin="round"/></svg>
<div class="a" style="left:1830.4px;top:1299px;width:101.5px;height:18.6px;background:#f5f7f8;border-radius:3px;"></div>
<div class="t" style="left:1839.37px;top:1304.63px;font-size:7.4px;line-height:7.4px;color:#dfe4e8;font-weight:700;letter-spacing:1px;transform:scaleX(0.8721);">BUTTONBUTTONBU</div>
<svg class="a" style="left:1917.8px;top:1306.3px" width="6.6" height="4" viewBox="0 0 6.6 4"><path d="M0.6 0.6 L3.3 3.4 L6 0.6" fill="none" stroke="#dfe4e8" stroke-width="1.3" stroke-linecap="round" stroke-linejoin="round"/></svg>
<div class="a" style="left:2001.3px;top:1299px;width:60.2px;height:18.6px;background:#f5f7f8;border-radius:3px;"></div>
<div class="a" style="left:2008.6px;top:1305.4px;width:5.8px;height:5.8px;box-sizing:border-box;border:1.3px solid #dfe4e8;border-radius:1.6px;"></div>
<div class="t" style="left:2019.96px;top:1304.63px;font-size:7.4px;line-height:7.4px;color:#dfe4e8;font-weight:700;letter-spacing:1px;transform:scaleX(0.8899);">BUTTON</div>
<div class="a" style="left:2128.5px;top:1299px;width:101.4px;height:18.6px;background:#f5f7f8;border-radius:3px;"></div>
<div class="a" style="left:2135.8px;top:1305.4px;width:5.8px;height:5.8px;box-sizing:border-box;border:1.3px solid #dfe4e8;border-radius:1.6px;"></div>
<div class="t" style="left:2147.17px;top:1304.63px;font-size:7.4px;line-height:7.4px;color:#dfe4e8;font-weight:700;letter-spacing:1px;transform:scaleX(0.8721);">BUTTONBUTTONBU</div>
<div class="t" style="left:1550.7px;top:1349.17px;font-size:12.2px;line-height:12.2px;color:#8d9ba6;">Full</div>
<div class="a" style="left:1702.6px;top:1341.8px;width:60.8px;height:18.6px;background:#e8f0fe;border-radius:3px;"></div>
<div class="t" style="left:1711.56px;top:1347.43px;font-size:7.4px;line-height:7.4px;color:#2f6fea;font-weight:700;letter-spacing:1px;transform:scaleX(0.8899);">BUTTON</div>
<svg class="a" style="left:1749.3px;top:1349.1px" width="6.6" height="4" viewBox="0 0 6.6 4"><path d="M0.6 0.6 L3.3 3.4 L6 0.6" fill="none" stroke="#2f6fea" stroke-width="1.3" stroke-linecap="round" stroke-linejoin="round"/></svg>
<div class="a" style="left:1830.4px;top:1343.2px;width:101.5px;height:18.6px;background:#e8f0fe;border-radius:3px;"></div>
<div class="t" style="left:1839.37px;top:1348.83px;font-size:7.4px;line-height:7.4px;color:#2f6fea;font-weight:700;letter-spacing:1px;transform:scaleX(0.8721);">BUTTONBUTTONBU</div>
<svg class="a" style="left:1917.8px;top:1350.5px" width="6.6" height="4" viewBox="0 0 6.6 4"><path d="M0.6 0.6 L3.3 3.4 L6 0.6" fill="none" stroke="#2f6fea" stroke-width="1.3" stroke-linecap="round" stroke-linejoin="round"/></svg>
<div class="a" style="left:2001.3px;top:1341.8px;width:60.2px;height:18.6px;background:#e8f0fe;border-radius:3px;"></div>
<div class="a" style="left:2008.9px;top:1348.1px;width:6px;height:6px;box-sizing:border-box;border:2px solid #2f6fea;border-radius:1.6px;"></div>
<div class="t" style="left:2023.26px;top:1348.03px;font-size:7.4px;line-height:7.4px;color:#2f6fea;font-weight:700;letter-spacing:1px;transform:scaleX(0.8899);">BUTTON</div>
<div class="a" style="left:2128.5px;top:1343.2px;width:101.4px;height:18.6px;background:#e8f0fe;border-radius:3px;"></div>
<div class="a" style="left:2136.1px;top:1349.5px;width:6px;height:6px;box-sizing:border-box;border:2px solid #2f6fea;border-radius:1.6px;"></div>
<div class="t" style="left:2147.17px;top:1349.43px;font-size:7.4px;line-height:7.4px;color:#2f6fea;font-weight:700;letter-spacing:1px;transform:scaleX(0.8721);">BUTTONBUTTONBU</div>
<div class="t" style="left:1550.7px;top:1400.37px;font-size:12.2px;line-height:12.2px;color:#8d9ba6;">Locked</div>
<div class="a" style="left:1702.6px;top:1397.2px;width:60.8px;height:18.6px;background:#fff;box-shadow:inset 0 0 0 1px #eef1f3;border-radius:3px;"></div>
<div class="t" style="left:1711.56px;top:1402.83px;font-size:7.4px;line-height:7.4px;color:#b4bec5;font-weight:700;letter-spacing:1px;transform:scaleX(0.8899);">BUTTON</div>
<svg class="a" style="left:1749.3px;top:1404.5px" width="6.6" height="4" viewBox="0 0 6.6 4"><path d="M0.6 0.6 L3.3 3.4 L6 0.6" fill="none" stroke="#d0d7dc" stroke-width="1.3" stroke-linecap="round" stroke-linejoin="round"/></svg>
<div class="a" style="left:1830.4px;top:1397.2px;width:101.5px;height:18.6px;background:#fff;box-shadow:inset 0 0 0 1px #eef1f3;border-radius:3px;"></div>
<div class="t" style="left:1839.37px;top:1402.83px;font-size:7.4px;line-height:7.4px;color:#b4bec5;font-weight:700;letter-spacing:1px;transform:scaleX(0.8721);">BUTTONBUTTONBU</div>
<svg class="a" style="left:1917.8px;top:1404.5px" width="6.6" height="4" viewBox="0 0 6.6 4"><path d="M0.6 0.6 L3.3 3.4 L6 0.6" fill="none" stroke="#d0d7dc" stroke-width="1.3" stroke-linecap="round" stroke-linejoin="round"/></svg>
<div class="a" style="left:2001.3px;top:1397.2px;width:60.2px;height:18.6px;background:#fff;box-shadow:inset 0 0 0 1px #eef1f3;border-radius:3px;"></div>
<div class="a" style="left:2008.6px;top:1403.6px;width:5.8px;height:5.8px;box-sizing:border-box;border:1.3px solid #b4bec5;border-radius:1.6px;"></div>
<div class="t" style="left:2019.96px;top:1402.83px;font-size:7.4px;line-height:7.4px;color:#b4bec5;font-weight:700;letter-spacing:1px;transform:scaleX(0.8899);">BUTTON</div>
<div class="a" style="left:2128.5px;top:1397.2px;width:101.4px;height:18.6px;background:#fff;box-shadow:inset 0 0 0 1px #eef1f3;border-radius:3px;"></div>
<div class="a" style="left:2135.8px;top:1403.6px;width:5.8px;height:5.8px;box-sizing:border-box;border:1.3px solid #b4bec5;border-radius:1.6px;"></div>
<div class="t" style="left:2147.17px;top:1402.83px;font-size:7.4px;line-height:7.4px;color:#b4bec5;font-weight:700;letter-spacing:1px;transform:scaleX(0.8721);">BUTTONBUTTONBU</div>
<div class="a" style="left:1665.7px;top:1201.8px;width:136.8px;height:72.2px;background:#fff;border-radius:3px;box-shadow:0 2px 10px rgba(40,60,80,0.13);"></div>
<div class="a" style="left:1665.7px;top:1214.3px;width:136.8px;height:23.9px;background:#e9f1fe;"></div>
<div class="t" style="left:1683.82px;top:1221.2px;font-size:9.8px;line-height:9.8px;color:#4a87f7;transform:scaleX(0.9658);">Без варианта</div>
<div class="t" style="left:1683.82px;top:1245.5px;font-size:9.8px;line-height:9.8px;color:#2a2a2a;transform:scaleX(0.9817);">Первый вариант</div>
<svg class="a" style="left:1793.2px;top:1232px;overflow:visible" width="10" height="14" viewBox="0 0 10 14"><path d="M0 0 L0 11 L2.7 8.6 L4.7 13.3 L6.9 12.3 L4.9 7.8 L8.9 7.6 Z" fill="#000"/></svg>
<div class="a" style="left:1962.8px;top:1201.8px;width:137.4px;height:72.2px;background:#fff;border-radius:3px;box-shadow:0 2px 10px rgba(40,60,80,0.13);"></div>
<div class="a" style="left:1962.8px;top:1214.3px;width:137.4px;height:23.9px;background:#e9f1fe;"></div>
<div class="t" style="left:1980.92px;top:1221.2px;font-size:9.8px;line-height:9.8px;color:#4a87f7;transform:scaleX(0.9658);">Без варианта</div>
<div class="t" style="left:1980.92px;top:1245.5px;font-size:9.8px;line-height:9.8px;color:#2a2a2a;transform:scaleX(0.9817);">Первый вариант</div>
<svg class="a" style="left:2090.8px;top:1232px;overflow:visible" width="10" height="14" viewBox="0 0 10 14"><path d="M0 0 L0 11 L2.7 8.6 L4.7 13.3 L6.9 12.3 L4.9 7.8 L8.9 7.6 Z" fill="#000"/></svg>
<div class="t" style="left:2583.75px;top:382.88px;font-size:36.29px;line-height:36.29px;color:#000;transform:scaleX(1.0083);-webkit-text-stroke:0.91px #000;">Dropbox</div>
<div class="t" style="left:2584.07px;top:466.23px;font-size:19.57px;line-height:19.57px;color:#111;transform:scaleX(0.9400);">Calendar</div>
<div class="a" style="left:2584px;top:528.3px;width:247.5px;height:239.9px;background:#fff;border-radius:3px;box-shadow:0 3px 12px rgba(40,60,80,0.10), 0 0 2px rgba(40,60,80,0.05);"></div>
<div class="t" style="left:2668.93px;top:544.93px;font-size:11.3px;line-height:11.3px;color:#333;font-weight:700;transform:scaleX(0.9073);">Сентябрь&nbsp; 2019</div>
<svg class="a" style="left:2605.3px;top:546.6px" width="5.2" height="7.8" viewBox="0 0 5.2 7.8"><path d="M4.6 0.6 L0.6 3.9 L4.6 7.2" fill="none" stroke="#a9b8c2" stroke-width="1.2" stroke-linecap="round" stroke-linejoin="round"/></svg>
<svg class="a" style="left:2805.3px;top:546.6px" width="5.2" height="7.8" viewBox="0 0 5.2 7.8"><path d="M0.6 0.6 L4.6 3.9 L0.6 7.2" fill="none" stroke="#a9b8c2" stroke-width="1.2" stroke-linecap="round" stroke-linejoin="round"/></svg>
<div class="t" style="left:2611.5px;top:569.87px;font-size:12.2px;line-height:12.2px;color:#c2ccd3;transform:scaleX(0.9400);">п</div>
<div class="t" style="left:2642.44px;top:569.87px;font-size:12.2px;line-height:12.2px;color:#c2ccd3;transform:scaleX(0.9400);">в</div>
<div class="t" style="left:2673.7px;top:569.87px;font-size:12.2px;line-height:12.2px;color:#c2ccd3;transform:scaleX(0.9400);">с</div>
<div class="t" style="left:2704.76px;top:569.87px;font-size:12.2px;line-height:12.2px;color:#c2ccd3;transform:scaleX(0.9400);">ч</div>
<div class="t" style="left:2735.62px;top:569.87px;font-size:12.2px;line-height:12.2px;color:#c2ccd3;transform:scaleX(0.9400);">п</div>
<div class="t" style="left:2766.79px;top:569.87px;font-size:12.2px;line-height:12.2px;color:#c2ccd3;transform:scaleX(0.9400);">с</div>
<div class="t" style="left:2797.59px;top:569.87px;font-size:12.2px;line-height:12.2px;color:#c2ccd3;transform:scaleX(0.9400);">в</div>
<div class="a" style="left:2661.31px;top:620.8px;width:30.7px;height:30.9px;background:#3d7ef9;border-radius:3px;"></div>
<div class="t" style="left:2642.36px;top:599.17px;font-size:12.2px;line-height:12.2px;color:#3a3a3a;transform:scaleX(0.9200);">1</div>
<div class="t" style="left:2673.54px;top:599.17px;font-size:12.2px;line-height:12.2px;color:#3a3a3a;transform:scaleX(0.9200);">2</div>
<div class="t" style="left:2704.6px;top:599.17px;font-size:12.2px;line-height:12.2px;color:#3a3a3a;transform:scaleX(0.9200);">3</div>
<div class="t" style="left:2735.63px;top:599.17px;font-size:12.2px;line-height:12.2px;color:#3a3a3a;transform:scaleX(0.9200);">4</div>
<div class="t" style="left:2766.64px;top:599.17px;font-size:12.2px;line-height:12.2px;color:#3a3a3a;transform:scaleX(0.9200);">5</div>
<div class="t" style="left:2797.62px;top:599.17px;font-size:12.2px;line-height:12.2px;color:#3a3a3a;transform:scaleX(0.9200);">6</div>
<div class="t" style="left:2611.47px;top:630.12px;font-size:12.2px;line-height:12.2px;color:#3a3a3a;transform:scaleX(0.9200);">7</div>
<div class="t" style="left:2642.51px;top:630.12px;font-size:12.2px;line-height:12.2px;color:#3a3a3a;transform:scaleX(0.9200);">8</div>
<div class="t" style="left:2673.55px;top:630.12px;font-size:12.2px;line-height:12.2px;color:#fff;font-weight:700;transform:scaleX(0.9200);">9</div>
<div class="t" style="left:2701.24px;top:630.12px;font-size:12.2px;line-height:12.2px;color:#3a3a3a;transform:scaleX(0.9200);">10</div>
<div class="t" style="left:2732.32px;top:630.12px;font-size:12.2px;line-height:12.2px;color:#3a3a3a;transform:scaleX(0.9200);">11</div>
<div class="t" style="left:2763.36px;top:630.12px;font-size:12.2px;line-height:12.2px;color:#3a3a3a;transform:scaleX(0.9200);">12</div>
<div class="t" style="left:2794.36px;top:630.12px;font-size:12.2px;line-height:12.2px;color:#3a3a3a;transform:scaleX(0.9200);">13</div>
<div class="t" style="left:2608.09px;top:661.07px;font-size:12.2px;line-height:12.2px;color:#3a3a3a;transform:scaleX(0.9200);">14</div>
<div class="t" style="left:2639.2px;top:661.07px;font-size:12.2px;line-height:12.2px;color:#3a3a3a;transform:scaleX(0.9200);">15</div>
<div class="t" style="left:2670.24px;top:661.07px;font-size:12.2px;line-height:12.2px;color:#3a3a3a;transform:scaleX(0.9200);">16</div>
<div class="t" style="left:2701.3px;top:661.07px;font-size:12.2px;line-height:12.2px;color:#3a3a3a;transform:scaleX(0.9200);">17</div>
<div class="t" style="left:2732.29px;top:661.07px;font-size:12.2px;line-height:12.2px;color:#3a3a3a;transform:scaleX(0.9200);">18</div>
<div class="t" style="left:2763.35px;top:661.07px;font-size:12.2px;line-height:12.2px;color:#3a3a3a;transform:scaleX(0.9200);">19</div>
<div class="t" style="left:2794.47px;top:661.07px;font-size:12.2px;line-height:12.2px;color:#3a3a3a;transform:scaleX(0.9200);">20</div>
<div class="t" style="left:2608.35px;top:692.02px;font-size:12.2px;line-height:12.2px;color:#3a3a3a;transform:scaleX(0.9200);">21</div>
<div class="t" style="left:2639.39px;top:692.02px;font-size:12.2px;line-height:12.2px;color:#3a3a3a;transform:scaleX(0.9200);">22</div>
<div class="t" style="left:2670.38px;top:692.02px;font-size:12.2px;line-height:12.2px;color:#3a3a3a;transform:scaleX(0.9200);">23</div>
<div class="t" style="left:2701.33px;top:692.02px;font-size:12.2px;line-height:12.2px;color:#3a3a3a;transform:scaleX(0.9200);">24</div>
<div class="t" style="left:2732.43px;top:692.02px;font-size:12.2px;line-height:12.2px;color:#3a3a3a;transform:scaleX(0.9200);">25</div>
<div class="t" style="left:2763.47px;top:692.02px;font-size:12.2px;line-height:12.2px;color:#3a3a3a;transform:scaleX(0.9200);">26</div>
<div class="t" style="left:2794.54px;top:692.02px;font-size:12.2px;line-height:12.2px;color:#3a3a3a;transform:scaleX(0.9200);">27</div>
<div class="t" style="left:2608.32px;top:722.97px;font-size:12.2px;line-height:12.2px;color:#3a3a3a;transform:scaleX(0.9200);">28</div>
<div class="t" style="left:2639.37px;top:722.97px;font-size:12.2px;line-height:12.2px;color:#3a3a3a;transform:scaleX(0.9200);">29</div>
<div class="t" style="left:2670.42px;top:722.97px;font-size:12.2px;line-height:12.2px;color:#3a3a3a;transform:scaleX(0.9200);">30</div>
<div class="t" style="left:2701.51px;top:722.97px;font-size:12.2px;line-height:12.2px;color:#3a3a3a;transform:scaleX(0.9200);">31</div>
<svg class="a" style="left:2756.7px;top:746.5px" width="6.6" height="6.6" viewBox="0 0 6.6 6.6"><path d="M0.6 0.6L6 6M6 0.6L0.6 6" stroke="#b9c5cd" stroke-width="1.3" stroke-linecap="round"/></svg>
<div class="t" style="left:2769.03px;top:744.9px;font-size:9.8px;line-height:9.8px;color:#b9c5cd;transform:scaleX(0.9494);">Сбросить</div>
<div class="a" style="left:2846.4px;top:528.3px;width:247.5px;height:239.9px;background:#fff;border-radius:3px;box-shadow:0 3px 12px rgba(40,60,80,0.10), 0 0 2px rgba(40,60,80,0.05);"></div>
<div class="t" style="left:2931.33px;top:544.93px;font-size:11.3px;line-height:11.3px;color:#333;font-weight:700;transform:scaleX(0.9073);">Сентябрь&nbsp; 2019</div>
<svg class="a" style="left:2867.7px;top:546.6px" width="5.2" height="7.8" viewBox="0 0 5.2 7.8"><path d="M4.6 0.6 L0.6 3.9 L4.6 7.2" fill="none" stroke="#a9b8c2" stroke-width="1.2" stroke-linecap="round" stroke-linejoin="round"/></svg>
<svg class="a" style="left:3067.7px;top:546.6px" width="5.2" height="7.8" viewBox="0 0 5.2 7.8"><path d="M0.6 0.6 L4.6 3.9 L0.6 7.2" fill="none" stroke="#a9b8c2" stroke-width="1.2" stroke-linecap="round" stroke-linejoin="round"/></svg>
<div class="t" style="left:2873.9px;top:569.87px;font-size:12.2px;line-height:12.2px;color:#c2ccd3;transform:scaleX(0.9400);">п</div>
<div class="t" style="left:2904.84px;top:569.87px;font-size:12.2px;line-height:12.2px;color:#c2ccd3;transform:scaleX(0.9400);">в</div>
<div class="t" style="left:2936.1px;top:569.87px;font-size:12.2px;line-height:12.2px;color:#c2ccd3;transform:scaleX(0.9400);">с</div>
<div class="t" style="left:2967.16px;top:569.87px;font-size:12.2px;line-height:12.2px;color:#c2ccd3;transform:scaleX(0.9400);">ч</div>
<div class="t" style="left:2998.02px;top:569.87px;font-size:12.2px;line-height:12.2px;color:#c2ccd3;transform:scaleX(0.9400);">п</div>
<div class="t" style="left:3029.19px;top:569.87px;font-size:12.2px;line-height:12.2px;color:#c2ccd3;transform:scaleX(0.9400);">с</div>
<div class="t" style="left:3059.99px;top:569.87px;font-size:12.2px;line-height:12.2px;color:#c2ccd3;transform:scaleX(0.9400);">в</div>
<div class="a" style="left:2939.06px;top:620.75px;width:139.62px;height:31px;background:#ebf2fe;border-radius:3px;"></div>
<div class="a" style="left:2861.8px;top:651.7px;width:216.88px;height:31px;background:#ebf2fe;border-radius:3px;"></div>
<div class="a" style="left:2861.8px;top:682.65px;width:77.26px;height:31px;background:#ebf2fe;border-radius:3px;"></div>
<div class="a" style="left:2923.71px;top:620.8px;width:30.7px;height:30.9px;background:#3d7ef9;border-radius:3px;"></div>
<div class="a" style="left:2923.71px;top:682.7px;width:30.7px;height:30.9px;background:#3d7ef9;border-radius:3px;"></div>
<div class="t" style="left:2904.76px;top:599.17px;font-size:12.2px;line-height:12.2px;color:#3a3a3a;transform:scaleX(0.9200);">1</div>
<div class="t" style="left:2935.94px;top:599.17px;font-size:12.2px;line-height:12.2px;color:#3a3a3a;transform:scaleX(0.9200);">2</div>
<div class="t" style="left:2967px;top:599.17px;font-size:12.2px;line-height:12.2px;color:#3a3a3a;transform:scaleX(0.9200);">3</div>
<div class="t" style="left:2998.03px;top:599.17px;font-size:12.2px;line-height:12.2px;color:#3a3a3a;transform:scaleX(0.9200);">4</div>
<div class="t" style="left:3029.04px;top:599.17px;font-size:12.2px;line-height:12.2px;color:#3a3a3a;transform:scaleX(0.9200);">5</div>
<div class="t" style="left:3060.02px;top:599.17px;font-size:12.2px;line-height:12.2px;color:#3a3a3a;transform:scaleX(0.9200);">6</div>
<div class="t" style="left:2873.87px;top:630.12px;font-size:12.2px;line-height:12.2px;color:#3a3a3a;transform:scaleX(0.9200);">7</div>
<div class="t" style="left:2904.91px;top:630.12px;font-size:12.2px;line-height:12.2px;color:#3a3a3a;transform:scaleX(0.9200);">8</div>
<div class="t" style="left:2935.95px;top:630.12px;font-size:12.2px;line-height:12.2px;color:#fff;font-weight:700;transform:scaleX(0.9200);">9</div>
<div class="t" style="left:2963.64px;top:630.12px;font-size:12.2px;line-height:12.2px;color:#3a3a3a;transform:scaleX(0.9200);">10</div>
<div class="t" style="left:2994.72px;top:630.12px;font-size:12.2px;line-height:12.2px;color:#3a3a3a;transform:scaleX(0.9200);">11</div>
<div class="t" style="left:3025.76px;top:630.12px;font-size:12.2px;line-height:12.2px;color:#3a3a3a;transform:scaleX(0.9200);">12</div>
<div class="t" style="left:3056.76px;top:630.12px;font-size:12.2px;line-height:12.2px;color:#3a3a3a;transform:scaleX(0.9200);">13</div>
<div class="t" style="left:2870.49px;top:661.07px;font-size:12.2px;line-height:12.2px;color:#3a3a3a;transform:scaleX(0.9200);">14</div>
<div class="t" style="left:2901.6px;top:661.07px;font-size:12.2px;line-height:12.2px;color:#3a3a3a;transform:scaleX(0.9200);">15</div>
<div class="t" style="left:2932.64px;top:661.07px;font-size:12.2px;line-height:12.2px;color:#3a3a3a;transform:scaleX(0.9200);">16</div>
<div class="t" style="left:2963.7px;top:661.07px;font-size:12.2px;line-height:12.2px;color:#3a3a3a;transform:scaleX(0.9200);">17</div>
<div class="t" style="left:2994.69px;top:661.07px;font-size:12.2px;line-height:12.2px;color:#3a3a3a;transform:scaleX(0.9200);">18</div>
<div class="t" style="left:3025.75px;top:661.07px;font-size:12.2px;line-height:12.2px;color:#3a3a3a;transform:scaleX(0.9200);">19</div>
<div class="t" style="left:3056.87px;top:661.07px;font-size:12.2px;line-height:12.2px;color:#3a3a3a;transform:scaleX(0.9200);">20</div>
<div class="t" style="left:2870.75px;top:692.02px;font-size:12.2px;line-height:12.2px;color:#3a3a3a;transform:scaleX(0.9200);">21</div>
<div class="t" style="left:2901.79px;top:692.02px;font-size:12.2px;line-height:12.2px;color:#3a3a3a;transform:scaleX(0.9200);">22</div>
<div class="t" style="left:2932.83px;top:692.02px;font-size:12.2px;line-height:12.2px;color:#fff;font-weight:700;transform:scaleX(0.9200);">23</div>
<div class="t" style="left:2963.73px;top:692.02px;font-size:12.2px;line-height:12.2px;color:#3a3a3a;transform:scaleX(0.9200);">24</div>
<div class="t" style="left:2994.83px;top:692.02px;font-size:12.2px;line-height:12.2px;color:#3a3a3a;transform:scaleX(0.9200);">25</div>
<div class="t" style="left:3025.87px;top:692.02px;font-size:12.2px;line-height:12.2px;color:#3a3a3a;transform:scaleX(0.9200);">26</div>
<div class="t" style="left:3056.94px;top:692.02px;font-size:12.2px;line-height:12.2px;color:#3a3a3a;transform:scaleX(0.9200);">27</div>
<div class="t" style="left:2870.72px;top:722.97px;font-size:12.2px;line-height:12.2px;color:#3a3a3a;transform:scaleX(0.9200);">28</div>
<div class="t" style="left:2901.77px;top:722.97px;font-size:12.2px;line-height:12.2px;color:#3a3a3a;transform:scaleX(0.9200);">29</div>
<div class="t" style="left:2932.82px;top:722.97px;font-size:12.2px;line-height:12.2px;color:#3a3a3a;transform:scaleX(0.9200);">30</div>
<div class="t" style="left:2963.91px;top:722.97px;font-size:12.2px;line-height:12.2px;color:#3a3a3a;transform:scaleX(0.9200);">31</div>
<svg class="a" style="left:3019.1px;top:746.5px" width="6.6" height="6.6" viewBox="0 0 6.6 6.6"><path d="M0.6 0.6L6 6M6 0.6L0.6 6" stroke="#b9c5cd" stroke-width="1.3" stroke-linecap="round"/></svg>
<div class="t" style="left:3031.43px;top:744.9px;font-size:9.8px;line-height:9.8px;color:#b9c5cd;transform:scaleX(0.9494);">Сбросить</div>
<div class="t" style="left:2585.64px;top:801.17px;font-size:8.3px;line-height:8.3px;color:#c4cdd3;transform:scaleX(0.9412);">Дата</div>
<div class="t" style="left:2585.04px;top:815.04px;font-size:14.71px;line-height:14.71px;color:#333;transform:scaleX(0.9527);">9 сен 2019</div>
<svg class="a" style="left:2660.9px;top:820.5px" width="6.2" height="3.8" viewBox="0 0 6.2 3.8"><path d="M0.6 0.6 L3.1 3.2 L5.6 0.6" fill="none" stroke="#a9b8c2" stroke-width="1.2" stroke-linecap="round" stroke-linejoin="round"/></svg>
<div class="a" style="left:2585.7px;top:850px;width:80.8px;height:21px;background:#eaf1fe;border-radius:3px;"></div>
<div class="t" style="left:2594.6px;top:856.92px;font-size:8.6px;line-height:8.6px;color:#3577ee;font-weight:700;letter-spacing:0.2px;transform:scaleX(1.0139);-webkit-text-stroke:0.2px #3577ee;">9 СЕН 2019</div>
<svg class="a" style="left:2649.9px;top:858.4px" width="6.8" height="4.2" viewBox="0 0 6.8 4.2"><path d="M0.6 0.6 L3.4 3.6 L6.2 0.6" fill="none" stroke="#3577ee" stroke-width="1.5" stroke-linecap="round" stroke-linejoin="round"/></svg>
<div class="a" style="left:2846.2px;top:850px;width:121.8px;height:21px;background:#eaf1fe;border-radius:3px;"></div>
<div class="t" style="left:2855.1px;top:856.92px;font-size:8.6px;line-height:8.6px;color:#3577ee;font-weight:700;letter-spacing:0.2px;transform:scaleX(1.0111);-webkit-text-stroke:0.2px #3577ee;">9 СЕН – 23 СЕН 2019</div>
<svg class="a" style="left:2951.4px;top:858.4px" width="6.8" height="4.2" viewBox="0 0 6.8 4.2"><path d="M0.6 0.6 L3.4 3.6 L6.2 0.6" fill="none" stroke="#3577ee" stroke-width="1.5" stroke-linecap="round" stroke-linejoin="round"/></svg>
<div class="t" style="left:2583.57px;top:955.41px;font-size:19.71px;line-height:19.71px;color:#111;transform:scaleX(0.9289);">Search</div>
<div class="a" style="left:2583.8px;top:1013.9px;width:185.9px;height:225.1px;background:#fff;border-radius:3px;box-shadow:0 3px 12px rgba(40,60,80,0.10), 0 0 2px rgba(40,60,80,0.05);"></div>
<div class="a" style="left:2593.5px;top:1023px;width:167.1px;height:30.6px;background:#f5f7f8;border-radius:3px;"></div>
<svg class="a" style="left:2611px;top:1033.2px" width="10" height="10" viewBox="0 0 10 10"><circle cx="4" cy="4" r="3.2" fill="none" stroke="#b5c0c8" stroke-width="1.2"/><path d="M6.4 6.4L9.2 9.2" stroke="#b5c0c8" stroke-width="1.3" stroke-linecap="round"/></svg>
<div class="t" style="left:2630.5px;top:1032.69px;font-size:11px;line-height:11px;color:#c0c9cf;">Введите исполнителя</div>
<div class="a" style="left:2583.8px;top:1061.7px;width:185.9px;height:1px;background:#eef1f3;"></div>
<div class="a" style="left:2583.8px;top:1070.4px;width:185.9px;height:38.4px;background:#eaf1fe;"></div>
<svg class="a" style="left:2605.3px;top:1077.9px" width="23.4" height="23.4" viewBox="0 0 24 24"><defs><clipPath id="cp2617"><circle cx="12" cy="12" r="12"/></clipPath></defs><circle cx="12" cy="12" r="12" fill="#a9b6be"/><g clip-path="url(#cp2617)"><circle cx="12" cy="9.3" r="4.3" fill="#fff"/><ellipse cx="12" cy="22.5" rx="8" ry="6.5" fill="#fff"/></g></svg>
<div class="t" style="left:2637.52px;top:1084.29px;font-size:11px;line-height:11px;color:#3d7ef9;transform:scaleX(0.9720);">Все исполнители</div>
<svg class="a" style="left:2605.3px;top:1116.8px" width="23.4" height="23.4" viewBox="0 0 24 24"><defs><clipPath id="ph2617"><circle cx="12" cy="12" r="12"/></clipPath></defs><g clip-path="url(#ph2617)"><rect width="24" height="24" fill="#3d5a2c"/><rect x="0" y="0" width="8" height="24" fill="#254a1c"/><rect x="8" y="0" width="16" height="9" fill="#8d8676"/><rect x="16" y="9" width="8" height="8" fill="#e6ede6"/><rect x="16" y="16" width="8" height="8" fill="#f29a48"/><rect x="15.5" y="14" width="1.6" height="10" fill="#1d1d18"/><path d="M4 24 Q12 18 20 24Z" fill="#a9c2e2"/><ellipse cx="11.6" cy="13.6" rx="5.6" ry="7.2" fill="#e2b3a4"/><path d="M5.6 10.5 Q6 5 11.8 5 Q17.6 5 17.6 10.5 Q16 7.6 11.8 7.8 Q7.4 7.6 5.6 10.5Z" fill="#4a3c30"/><path d="M7 12.6h3.6M12.8 12.6h3.6" stroke="#8a7a74" stroke-width="0.9"/><path d="M9.6 18.6 Q11.6 19.6 13.6 18.6" stroke="#9b6a5c" stroke-width="0.8" fill="none"/></g></svg>
<div class="t" style="left:2638.38px;top:1123.19px;font-size:11px;line-height:11px;color:#333;transform:scaleX(0.9834);">Арсений Иванов</div>
<div class="a" style="left:2605.3px;top:1155.7px;width:23.4px;height:23.4px;background:#ffb300;border-radius:50%;"></div>
<div class="t" style="left:2612.5px;top:1163.57px;font-size:7.6px;line-height:7.6px;color:#fff;font-weight:700;transform:scaleX(0.9500);">ГК</div>
<div class="t" style="left:2637.51px;top:1162.09px;font-size:11px;line-height:11px;color:#333;transform:scaleX(0.9861);">Григорий Киреев</div>
<div class="a" style="left:2605.3px;top:1194.6px;width:23.4px;height:23.4px;background:#3d7ef9;border-radius:50%;"></div>
<div class="t" style="left:2611.73px;top:1202.47px;font-size:7.6px;line-height:7.6px;color:#fff;font-weight:700;transform:scaleX(0.9500);">СА</div>
<div class="t" style="left:2637.85px;top:1200.99px;font-size:11px;line-height:11px;color:#333;transform:scaleX(0.9758);">Станислав Асеев</div>
<div class="a" style="left:2834.5px;top:1013.9px;width:185.9px;height:225.1px;background:#fff;border-radius:3px;box-shadow:0 3px 12px rgba(40,60,80,0.10), 0 0 2px rgba(40,60,80,0.05);"></div>
<div class="a" style="left:2844.2px;top:1023px;width:167.1px;height:30.6px;background:#f5f7f8;border-radius:3px;"></div>
<svg class="a" style="left:2861.7px;top:1033.2px" width="10" height="10" viewBox="0 0 10 10"><circle cx="4" cy="4" r="3.2" fill="none" stroke="#b5c0c8" stroke-width="1.2"/><path d="M6.4 6.4L9.2 9.2" stroke="#b5c0c8" stroke-width="1.3" stroke-linecap="round"/></svg>
<div class="t" style="left:2881.2px;top:1032.69px;font-size:11px;line-height:11px;color:#c0c9cf;">Введите исполнителя</div>
<div class="a" style="left:2834.5px;top:1061.7px;width:185.9px;height:1px;background:#eef1f3;"></div>
<svg class="a" style="left:2856px;top:1077.9px" width="23.4" height="23.4" viewBox="0 0 24 24"><defs><clipPath id="cp2867"><circle cx="12" cy="12" r="12"/></clipPath></defs><circle cx="12" cy="12" r="12" fill="#a9b6be"/><g clip-path="url(#cp2867)"><circle cx="12" cy="9.3" r="4.3" fill="#fff"/><ellipse cx="12" cy="22.5" rx="8" ry="6.5" fill="#fff"/></g></svg>
<div class="t" style="left:2888.22px;top:1084.29px;font-size:11px;line-height:11px;color:#3d7ef9;transform:scaleX(0.9720);">Все исполнители</div>
<svg class="a" style="left:2856px;top:1116.8px" width="23.4" height="23.4" viewBox="0 0 24 24"><defs><clipPath id="ph2867"><circle cx="12" cy="12" r="12"/></clipPath></defs><g clip-path="url(#ph2867)"><rect width="24" height="24" fill="#3d5a2c"/><rect x="0" y="0" width="8" height="24" fill="#254a1c"/><rect x="8" y="0" width="16" height="9" fill="#8d8676"/><rect x="16" y="9" width="8" height="8" fill="#e6ede6"/><rect x="16" y="16" width="8" height="8" fill="#f29a48"/><rect x="15.5" y="14" width="1.6" height="10" fill="#1d1d18"/><path d="M4 24 Q12 18 20 24Z" fill="#a9c2e2"/><ellipse cx="11.6" cy="13.6" rx="5.6" ry="7.2" fill="#e2b3a4"/><path d="M5.6 10.5 Q6 5 11.8 5 Q17.6 5 17.6 10.5 Q16 7.6 11.8 7.8 Q7.4 7.6 5.6 10.5Z" fill="#4a3c30"/><path d="M7 12.6h3.6M12.8 12.6h3.6" stroke="#8a7a74" stroke-width="0.9"/><path d="M9.6 18.6 Q11.6 19.6 13.6 18.6" stroke="#9b6a5c" stroke-width="0.8" fill="none"/></g></svg>
<div class="t" style="left:2889.08px;top:1123.19px;font-size:11px;line-height:11px;color:#333;transform:scaleX(0.9834);">Арсений Иванов</div>
<div class="a" style="left:2834.5px;top:1148.2px;width:185.9px;height:38.4px;background:#eaf1fe;"></div>
<div class="a" style="left:2856px;top:1155.7px;width:23.4px;height:23.4px;background:#ffb300;border-radius:50%;"></div>
<div class="t" style="left:2863.2px;top:1163.57px;font-size:7.6px;line-height:7.6px;color:#fff;font-weight:700;transform:scaleX(0.9500);">ГК</div>
<div class="t" style="left:2888.21px;top:1162.09px;font-size:11px;line-height:11px;color:#333;transform:scaleX(0.9861);">Григорий Киреев</div>
<div class="a" style="left:2856px;top:1194.6px;width:23.4px;height:23.4px;background:#3d7ef9;border-radius:50%;"></div>
<div class="t" style="left:2862.43px;top:1202.47px;font-size:7.6px;line-height:7.6px;color:#fff;font-weight:700;transform:scaleX(0.9500);">СА</div>
<div class="t" style="left:2888.55px;top:1200.99px;font-size:11px;line-height:11px;color:#333;transform:scaleX(0.9758);">Станислав Асеев</div>
<svg class="a" style="left:2984px;top:1173.8px;overflow:visible" width="7.8" height="10.92" viewBox="0 0 10 14"><path d="M0 0 L0 11 L2.7 8.6 L4.7 13.3 L6.9 12.3 L4.9 7.8 L8.9 7.6 Z" fill="#000"/></svg>
<div class="a" style="left:3072.6px;top:1013.7px;width:185.4px;height:109.4px;background:#fff;border-radius:3px;box-shadow:0 3px 12px rgba(40,60,80,0.10), 0 0 2px rgba(40,60,80,0.05);"></div>
<div class="a" style="left:3081.9px;top:1022.8px;width:167.1px;height:31.2px;background:#fff;box-shadow:inset 0 0 0 1.3px #6d9df7;border-radius:3px;"></div>
<div class="t" style="left:3088.37px;top:1033.09px;font-size:11px;line-height:11px;color:#333;transform:scaleX(1.0270);">Гри</div>
<div class="a" style="left:3107px;top:1032px;width:1.3px;height:14.5px;background:#3d7ef9;"></div>
<svg class="a" style="left:3232.5px;top:1035px" width="7.2" height="7.2" viewBox="0 0 7.2 7.2"><path d="M0.6 0.6L6.6 6.6M6.6 0.6L0.6 6.6" stroke="#9fb0bb" stroke-width="1.2" stroke-linecap="round"/></svg>
<div class="a" style="left:3072.6px;top:1062.2px;width:185.4px;height:1px;background:#eef1f3;"></div>
<div class="a" style="left:3094.6px;top:1078.4px;width:23.4px;height:23.4px;background:#ffb300;border-radius:50%;"></div>
<div class="t" style="left:3101.8px;top:1086.27px;font-size:7.6px;line-height:7.6px;color:#fff;font-weight:700;transform:scaleX(0.9500);">ГК</div>
<div class="t" style="left:3124.91px;top:1084.79px;font-size:11px;line-height:11px;color:#333;transform:scaleX(0.9861);">Григорий Киреев</div>
<div class="t" style="left:3338.71px;top:1016.47px;font-size:9.6px;line-height:9.6px;color:#111;font-weight:700;transform:scaleX(1.0371);">Search field</div>
<div class="t" style="left:3338.13px;top:1044.67px;font-size:9.6px;line-height:9.6px;color:#222;transform:scaleX(1.1004);">Padding: 12 px</div>
<div class="t" style="left:3338.99px;top:1097.17px;font-size:9.6px;line-height:9.6px;color:#111;font-weight:700;transform:scaleX(1.0191);">Window</div>
<div class="t" style="left:3338.13px;top:1125.37px;font-size:9.6px;line-height:9.6px;color:#222;transform:scaleX(1.1004);">Padding: 28 px</div>
<div class="t" style="left:3338.11px;top:1153.07px;font-size:9.6px;line-height:9.6px;color:#222;transform:scaleX(1.1305);">Min widht&nbsp; – 240 px</div>
<div class="t" style="left:3338.1px;top:1180.87px;font-size:9.6px;line-height:9.6px;color:#222;transform:scaleX(1.1427);">Max width – 320 px</div>
<div class="t" style="left:2582.7px;top:1333.23px;font-size:18.86px;line-height:18.86px;color:#111;transform:scaleX(0.9672);">Dropbox_addSTH</div>
<div class="t" style="left:2583.04px;top:1381.95px;font-size:13.4px;line-height:13.4px;color:#8d9ba6;transform:scaleX(1.0543);">Default</div>
<div class="t" style="left:2816.99px;top:1381.95px;font-size:13.4px;line-height:13.4px;color:#8d9ba6;transform:scaleX(1.0066);">Hover, Active</div>
<div class="a" style="left:2584.2px;top:1423.6px;width:201.1px;height:32.1px;background:#f5f7f8;border-radius:1.5px 1.5px 6.5px 6.5px;"></div>
<svg class="a" style="left:2600.05px;top:1431.75px" width="15.5" height="15.5" viewBox="0 0 15.5 15.5"><circle cx="7.75" cy="7.75" r="7.75" fill="#b7c3ca"/><path d="M4.75 7.75h6M7.75 4.75v6" stroke="#fff" stroke-width="1.6"/></svg>
<div class="t" style="left:2630.13px;top:1435.8px;font-size:7.8px;line-height:7.8px;color:#b7c3ca;font-weight:700;letter-spacing:0.3px;transform:scaleX(0.9869);">ДОБАВИТЬ КОМПАНИЮ</div>
<div class="a" style="left:2818.1px;top:1423.6px;width:201.1px;height:32.1px;background:#ebeff1;border-radius:1.5px 1.5px 6.5px 6.5px;"></div>
<svg class="a" style="left:2833.95px;top:1431.75px" width="15.5" height="15.5" viewBox="0 0 15.5 15.5"><circle cx="7.75" cy="7.75" r="7.75" fill="#5f7b89"/><path d="M4.75 7.75h6M7.75 4.75v6" stroke="#fff" stroke-width="1.6"/></svg>
<div class="t" style="left:2864.03px;top:1435.8px;font-size:7.8px;line-height:7.8px;color:#5f7b89;font-weight:700;letter-spacing:0.3px;transform:scaleX(0.9869);">ДОБАВИТЬ КОМПАНИЮ</div>
</div></div>
</body></html>
